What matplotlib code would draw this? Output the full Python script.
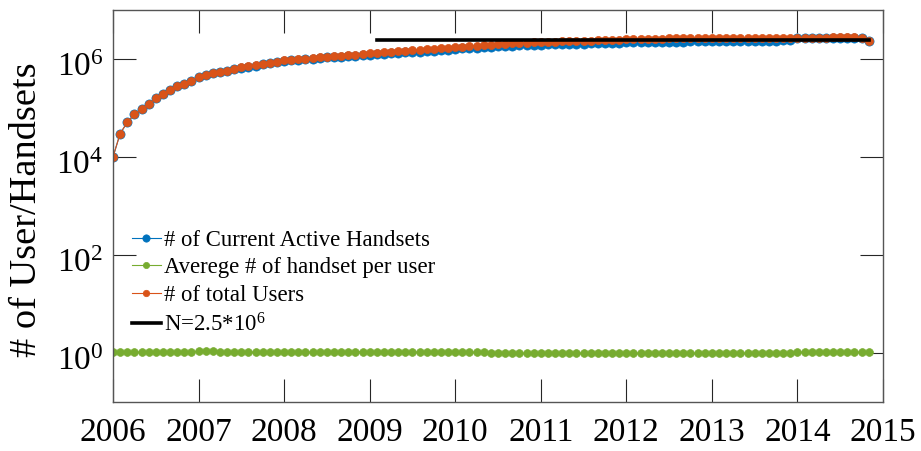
import matplotlib
matplotlib.use("Agg")
import matplotlib.pyplot as plt
from matplotlib.transforms import ScaledTranslation
import numpy as np

plt.rcParams['font.family'] = ['Liberation Serif', 'DejaVu Serif']
plt.rcParams['mathtext.fontset'] = 'custom'
plt.rcParams['mathtext.rm'] = 'Liberation Serif'
plt.rcParams['mathtext.it'] = 'Liberation Serif:italic'

# monthly samples, Jan 2006 .. Nov 2014 (values in thousands)
total_users = [
    10, 30, 51, 74, 95, 120, 158, 195, 229, 275, 309, 363,
    427, 468, 513, 550, 575, 631, 676, 708, 741, 794, 832, 871,
    933, 955, 977, 1023, 1047, 1084, 1122, 1148, 1175, 1202, 1230, 1274,
    1303, 1334, 1365, 1396, 1429, 1462, 1496, 1531, 1567, 1603, 1641, 1698,
    1758, 1799, 1841, 1884, 1928, 1972, 2018, 2042, 2089, 2113, 2163, 2188,
    2213, 2239, 2265, 2291, 2291, 2317, 2344, 2371, 2399, 2427, 2455, 2483,
    2512, 2541, 2570, 2570, 2600, 2600, 2630, 2630, 2630, 2661, 2661, 2661,
    2690, 2690, 2692, 2700, 2705, 2710, 2712, 2715, 2720, 2722, 2725, 2730,
    2735, 2738, 2740, 2742, 2745, 2748, 2750, 2752, 2755, 2720, 2300,
]
active_handsets = [
    10, 30, 51, 74, 95, 120, 158, 195, 229, 275, 309, 363,
    427, 468, 510, 545, 570, 625, 668, 700, 730, 780, 818, 855,
    915, 935, 955, 995, 1015, 1048, 1080, 1100, 1122, 1145, 1170, 1208,
    1230, 1255, 1282, 1308, 1335, 1362, 1390, 1420, 1450, 1480, 1512, 1560,
    1610, 1645, 1680, 1715, 1750, 1785, 1820, 1840, 1875, 1895, 1935, 1955,
    1970, 1990, 2010, 2030, 2030, 2050, 2070, 2090, 2110, 2130, 2150, 2170,
    2190, 2210, 2230, 2230, 2250, 2250, 2270, 2270, 2275, 2290, 2290, 2295,
    2300, 2305, 2310, 2315, 2320, 2325, 2330, 2340, 2350, 2370, 2400, 2450,
    2650, 2690, 2710, 2720, 2730, 2735, 2740, 2740, 2745, 2700, 2300,
]
avg_handsets = [
    1.03, 1.03, 1.03, 1.03, 1.03, 1.03, 1.03, 1.03, 1.03, 1.03, 1.03, 1.03,
    1.10, 1.12, 1.10, 1.03, 1.03, 1.03, 1.03, 1.03, 1.03, 1.03, 1.03, 1.03,
    1.03, 1.03, 1.03, 1.03, 1.03, 1.03, 1.03, 1.03, 1.03, 1.03, 1.06, 1.06,
    1.06, 1.06, 1.03, 1.03, 1.03, 1.03, 1.03, 1.03, 1.03, 1.03, 1.03, 1.03,
    1.03, 1.03, 1.03, 1.03, 1.03, 0.98, 0.98, 0.98, 0.98, 0.98, 0.98, 0.98,
    0.98, 0.98, 0.98, 0.98, 0.98, 0.98, 0.98, 0.98, 0.98, 0.98, 0.98, 0.98,
    0.98, 0.98, 0.98, 0.98, 0.98, 0.98, 0.98, 0.98, 0.98, 0.98, 0.98, 0.98,
    0.98, 0.98, 0.98, 0.98, 0.98, 0.98, 0.98, 0.98, 0.98, 0.98, 0.98, 1.02,
    1.03, 1.03, 1.03, 1.03, 1.03, 1.03, 1.03, 1.03, 1.03, 1.03, 1.03,
]
n_value = 2.5e6
n_start = 37  # Feb 2009

months = 2006 + np.arange(len(total_users)) / 12.0
total_users = np.array(total_users) * 1000.0
active_handsets = np.array(active_handsets) * 1000.0

blue = '#0072BD'
green = '#77AC30'
orange = '#D95319'

fig = plt.figure(figsize=(9.21, 4.51), dpi=100)
ax = fig.add_axes([113/921, 49/451, 770/921, 392/451])

ax.plot(months, active_handsets, '-o', color=blue, lw=0.8, ms=6.6,
        mec=blue, mfc=blue, mew=0.5, label='# of Current Active Handsets')
ax.plot(months, avg_handsets, '-o', color=green, lw=0.8, ms=5.6,
        mec=green, mfc=green, mew=0.5, label='Averege # of handset per user')
ax.plot(months, total_users, '-o', color=orange, lw=0.8, ms=5.8,
        mec=orange, mfc=orange, mew=0.5, label='# of total Users')
ax.plot(months[n_start:], [n_value] * len(months[n_start:]), '-', color='black',
        lw=2.6, label=r'N=2.5*10$^{6}$')

ax.set_yscale('log')
ax.set_xlim(2006, 2015)
ax.set_ylim(1e-1, 1e7)
ax.set_xticks(range(2006, 2016))
ax.set_xticklabels([str(y) for y in range(2006, 2016)])
ax.set_yticks([1e0, 1e2, 1e4, 1e6])
ax.set_yticklabels([r'$\mathregular{10^{%d}}$' % e for e in (0, 2, 4, 6)])
ax.minorticks_off()

ax.tick_params(axis='both', which='major', direction='in', length=16.5,
               width=0.8, color='#262626', top=True, right=True,
               labelsize=24)
ax.tick_params(axis='x', pad=11)
ax.tick_params(axis='y', pad=7)
shift = ScaledTranslation(0, -4 / 72, fig.dpi_scale_trans)
for lab in ax.get_yticklabels():
    lab.set_transform(lab.get_transform() + shift)
for s in ax.spines.values():
    s.set_color('#555555')
    s.set_linewidth(1.0)

ax.set_ylabel('# of User/Handsets', fontsize=27.6)
ax.yaxis.set_label_coords(-0.089, 0.49)

ax.legend(loc='upper left', bbox_to_anchor=(0.025, 0.44), frameon=False,
          fontsize=16.4, borderpad=0, borderaxespad=0, handlelength=1.25,
          handletextpad=0.15, labelspacing=0.3, markerscale=0.8)

fig.savefig('out.png', dpi=100)
